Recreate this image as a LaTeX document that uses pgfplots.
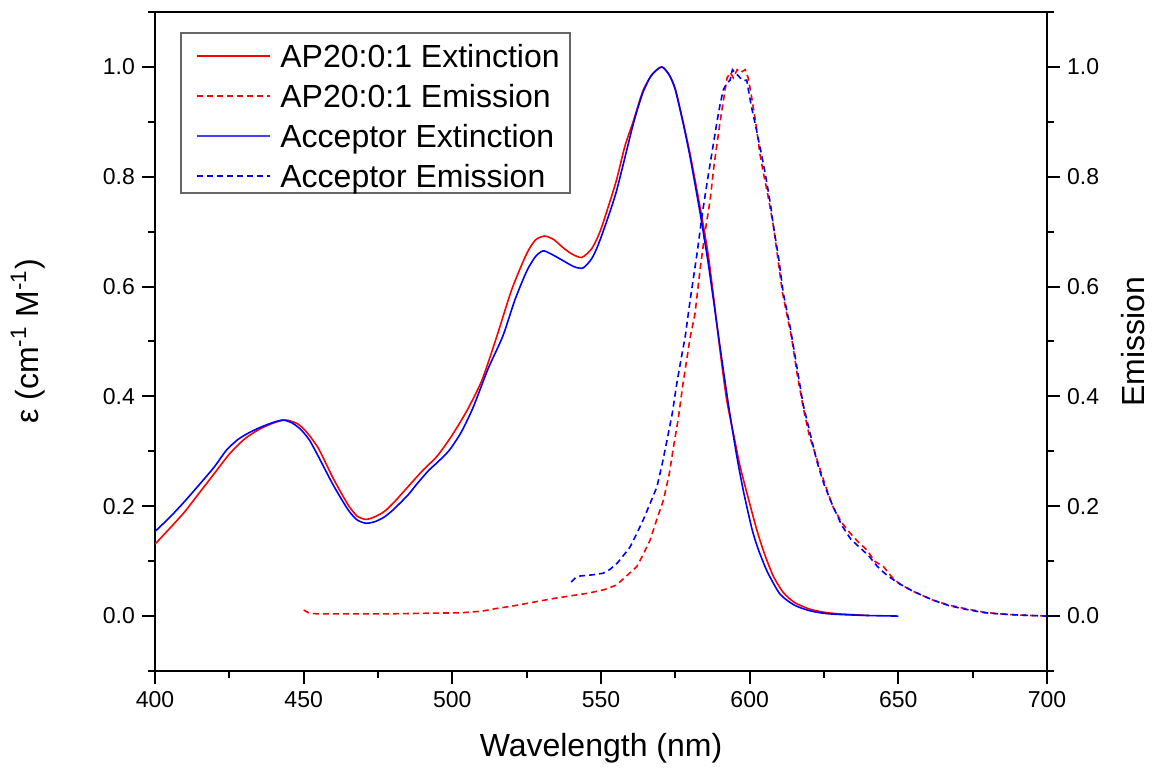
\documentclass[border=0pt]{standalone}
\usepackage{pgfplots}
\pgfplotsset{compat=1.18}
\usepackage{fontspec}
\setmainfont{Liberation Sans}

% extinction (left axis) and emission (right axis) share the same scale
\pgfplotstableread{
x y
400 0.131
405 0.160
410 0.190
415 0.225
420 0.260
425 0.295
430 0.322
435 0.340
440 0.352
444 0.357
448 0.350
451 0.335
455 0.305
460 0.250
465 0.202
468 0.182
471 0.176
474 0.181
477 0.190
480 0.205
485 0.235
490 0.265
495 0.292
500 0.330
505 0.375
510 0.430
515 0.510
520 0.595
525 0.660
528 0.685
531 0.692
534 0.686
537 0.672
540 0.660
543.5 0.653
547 0.670
550 0.705
555 0.790
558 0.855
560.8 0.900
564 0.955
567 0.985
570.4 1.000
573 0.985
575 0.960
577.6 0.900
580 0.840
583.3 0.745
586 0.660
588 0.575
590 0.485
592.3 0.393
595 0.320
596.8 0.272
600 0.205
602.5 0.155
605 0.113
608 0.072
611.3 0.043
615 0.025
620 0.013
625 0.007
630 0.004
640 0.001
}\redext

\pgfplotstableread{
x y
400 0.154
405 0.180
409.5 0.206
415 0.240
420 0.272
424 0.302
428 0.322
432 0.335
436 0.345
440 0.353
443 0.357
446 0.352
449 0.340
452 0.320
455 0.290
460 0.238
465 0.193
468 0.175
471 0.169
474 0.172
477 0.180
480 0.193
485 0.220
488 0.240
492 0.265
495 0.280
499 0.302
503 0.335
507 0.380
512 0.450
517 0.510
521 0.575
525 0.628
528 0.655
530.5 0.665
533 0.660
537 0.648
541 0.636
544 0.634
547 0.652
549.7 0.685
555 0.770
560.8 0.895
564 0.952
567 0.985
570.4 1.000
573 0.985
575 0.958
577.6 0.898
580 0.835
583.3 0.735
586 0.645
589 0.530
591.1 0.450
593 0.380
595.7 0.290
598 0.225
600.8 0.158
603 0.120
606 0.080
610.2 0.040
615 0.020
620 0.010
625 0.005
630 0.003
640 0.001
650 0.000
}\blueext

\pgfplotstableread{
x y
450 0.011
452 0.005
455 0.004
465 0.004
477 0.004
490 0.005
503 0.006
510 0.009
515 0.014
520 0.018
528 0.026
534 0.032
540 0.037
546 0.042
551 0.048
555 0.056
558 0.070
562 0.090
564 0.110
566.5 0.138
569 0.180
571 0.211
573 0.260
574.2 0.302
576 0.360
577.6 0.424
580 0.508
581.6 0.550
583.3 0.630
585 0.700
586.7 0.757
588 0.820
590 0.898
591.5 0.950
592.4 0.980
593.5 0.990
594.5 0.980
595.8 0.995
597 0.990
598.5 0.995
599.5 0.980
600.5 0.950
602 0.900
603.5 0.840
604.5 0.810
606 0.770
608 0.710
609.5 0.650
611 0.590
612.5 0.550
614 0.510
616 0.440
618 0.380
620 0.330
622.7 0.284
625 0.245
628 0.199
631 0.170
633.8 0.151
636.5 0.135
639.5 0.120
642 0.100
645 0.090
648 0.070
650.6 0.058
655 0.045
661.7 0.029
667 0.020
673 0.013
679 0.007
684 0.004
690 0.002
700 0.000
}\redem

\pgfplotstableread{
x y
540 0.062
541.5 0.070
543 0.073
547 0.075
550.7 0.078
553 0.085
555.4 0.096
557.5 0.110
559.8 0.126
562 0.150
564.2 0.175
566.5 0.205
568.8 0.235
570.5 0.275
572.2 0.320
574 0.370
575.5 0.424
577 0.470
578.3 0.508
580 0.576
582.3 0.660
584 0.730
585.7 0.790
587.5 0.850
589 0.900
590 0.930
591.1 0.958
592.3 0.970
593.4 0.976
594.2 0.995
595 0.990
596 0.985
596.8 0.980
598 0.975
599 0.976
600.5 0.930
602.5 0.880
604 0.840
605.2 0.807
607 0.750
608 0.710
609.8 0.650
611.3 0.588
613.6 0.527
616 0.450
618 0.385
620 0.340
622.7 0.280
625 0.240
628 0.200
631 0.165
634 0.140
637 0.125
640 0.110
643 0.090
646 0.075
650 0.060
655 0.045
661.7 0.029
667 0.019
673 0.012
679 0.006
684 0.004
690 0.002
700 0.000
}\blueem

\pgfplotsset{
  base/.style={
    scale only axis, width=446pt, height=329.5pt,
    xmin=400, xmax=700, ymin=-0.1, ymax=1.1,
    tick align=outside,
    major tick length=6.5pt, minor tick length=3.5pt,
    every tick/.style={black, line width=1pt},
    axis line style={line width=1pt},
    ytick={0,0.2,0.4,0.6,0.8,1.0},
    minor ytick={-0.1,0.1,0.3,0.5,0.7,0.9,1.1},
    yticklabel style={/pgf/number format/.cd, fixed, fixed zerofill, precision=1},
    tick label style={font=\fontsize{11.5}{13}\selectfont},
    /pgf/number format/assume math mode=true,
  },
  ext/.style={line width=0.8pt, smooth, tension=0.4},
  em/.style={line width=0.8pt, dash pattern=on 3pt off 2pt},
}

% legend key: #1 = row offset below the axis top, #2 = style, #3 = text
\newcommand\legrow[3]{%
  \draw[#2] ([xshift=21pt,yshift=-#1]rel axis cs:0,1) -- ++(36.5pt,0pt);
  \node[anchor=west, inner sep=0pt, text height=11.5pt, text depth=0pt,
    font=\fontsize{16}{19}\selectfont]
    at ([xshift=62.5pt,yshift=-#1]rel axis cs:0,1) {#3};}

\begin{document}
\begin{tikzpicture}
\begin{axis}[base, name=main,
    xtick={400,450,...,700}, minor xtick={425,475,...,675},
    xtick pos=bottom, ytick pos=left,
    xlabel={Wavelength (nm)},
    ylabel={ε (cm\textsuperscript{-1} M\textsuperscript{-1})},
    every axis x label/.style={at={(rel axis cs:0.5,0)}, anchor=center, yshift=-38.5pt,
      font=\fontsize{16}{19}\selectfont},
    every axis y label/.style={at={(rel axis cs:0,0.5)}, anchor=center, xshift=-63.5pt, rotate=90,
      font=\fontsize{16}{19}\selectfont},
]
\addplot[color=red, ext] table {\redext};
\addplot[color=red, em] table {\redem};
\addplot[color=blue, ext] table {\blueext};
\addplot[color=blue, em] table {\blueem};
% legend box
\draw[gray!80!black, line width=0.6pt, fill=white]
  ([xshift=13pt,yshift=-10.5pt]rel axis cs:0,1) rectangle ([xshift=207.5pt,yshift=-90.5pt]rel axis cs:0,1);
\legrow{22pt}{red, line width=1pt}{AP20:0:1 Extinction}
\legrow{42pt}{red, line width=1pt, dash pattern=on 3pt off 2pt}{AP20:0:1 Emission}
\legrow{62pt}{blue!75!white, line width=1.2pt}{Acceptor Extinction}
\legrow{82pt}{blue, line width=1pt, dash pattern=on 3pt off 2pt}{Acceptor Emission}
\end{axis}
\begin{axis}[base,
    axis x line=none, axis y line*=right, y axis line style={-},
    xtick=\empty,
    ylabel={Emission},
    every axis y label/.style={at={(rel axis cs:1,0.5)}, anchor=center, xshift=43pt, rotate=90,
      font=\fontsize{16}{19}\selectfont},
]
\end{axis}
\pgfresetboundingbox
\path[use as bounding box] ([xshift=-77.5pt,yshift=-52.5pt]main.south west)
  rectangle ([xshift=53pt,yshift=6pt]main.north east);
\end{tikzpicture}
\end{document}
